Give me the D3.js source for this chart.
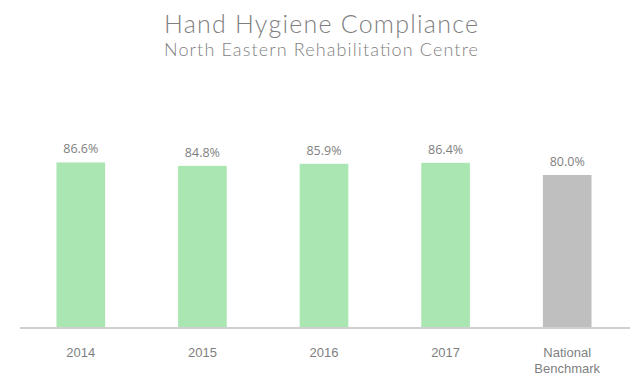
<!DOCTYPE html>
<html>
<head>
<meta charset="utf-8">
<script src="https://cdn.jsdelivr.net/npm/d3@7"></script>
<style>
  body { margin: 0; background: #fff; }
</style>
</head>
<body>
<div id="chart-area"></div>
<script>
// data
const categories = ["2014", "2015", "2016", "2017", "National Benchmark"]
const values = [86.6, 84.8, 85.9, 86.4, 80.0]
const benchmark = [false, false, false, false, true]

var cw = 643
var ch = 378

var svg = d3.select("#chart-area").append("svg")
    .attr("width", cw)
    .attr("height", ch)

svg.append("text")
    .attr("x", 321)
    .attr("y", 33)
    .attr("text-anchor", "middle")
    .attr("font-family", "Lato, sans-serif")
    .attr("font-weight", 300)
    .attr("font-size", "25px")
    .attr("textLength", 314)
    .attr("lengthAdjust", "spacing")
    .attr("fill", "#7f7f7f")
    .text("Hand Hygiene Compliance")

svg.append("text")
    .attr("x", 321)
    .attr("y", 56)
    .attr("text-anchor", "middle")
    .attr("font-family", "Lato, sans-serif")
    .attr("font-weight", 300)
    .attr("font-size", "18px")
    .attr("textLength", 314)
    .attr("lengthAdjust", "spacing")
    .attr("fill", "#7f7f7f")
    .text("North Eastern Rehabilitation Centre")

var x = d3.scaleBand()
    .domain(categories)
    .range([20, 628])
    .paddingInner(0.6)
    .paddingOuter(0.3)

var y = d3.scaleLinear()
    .domain([0, 100])
    .range([327, 137])

var g = svg.append("g")

g.selectAll("rect")
    .data(values)
    .enter()
    .append("rect")
    .attr("x", (d, i) => x(categories[i]))
    .attr("y", d => y(d))
    .attr("width", x.bandwidth())
    .attr("height", d => y(0) - y(d))
    .attr("fill", (d, i) => benchmark[i] ? "#bfbfbf" : "#a9e6b1")

g.selectAll(".val")
    .data(values)
    .enter()
    .append("text")
    .attr("class", "val")
    .attr("x", (d, i) => x(categories[i]) + x.bandwidth() / 2)
    .attr("y", d => y(d) - 9)
    .attr("text-anchor", "middle")
    .attr("font-family", "'Open Sans', sans-serif")
    .attr("font-size", "12.5px")
    .attr("fill", "#7f7f7f")
    .text(d => d.toFixed(1) + "%")

// axis line
svg.append("line")
    .attr("x1", 20)
    .attr("x2", 630)
    .attr("y1", y(0) + 1)
    .attr("y2", y(0) + 1)
    .attr("stroke", "#d0d0d0")
    .attr("stroke-width", 2)

var labels = svg.selectAll(".cat")
    .data(categories)
    .enter()
    .append("text")
    .attr("class", "cat")
    .attr("text-anchor", "middle")
    .attr("font-family", "'Liberation Sans Narrow', 'Liberation Sans', sans-serif")
    .attr("font-size", "13px")
    .attr("fill", "#7f7f7f")

labels.each(function (d) {
    var words = d.split(" ")
    var cx = x(d) + x.bandwidth() / 2
    words.forEach((w, i) => {
        d3.select(this).append("tspan")
            .attr("x", cx)
            .attr("y", 357 + i * 16)
            .text(w)
    })
})
</script>
</body>
</html>
